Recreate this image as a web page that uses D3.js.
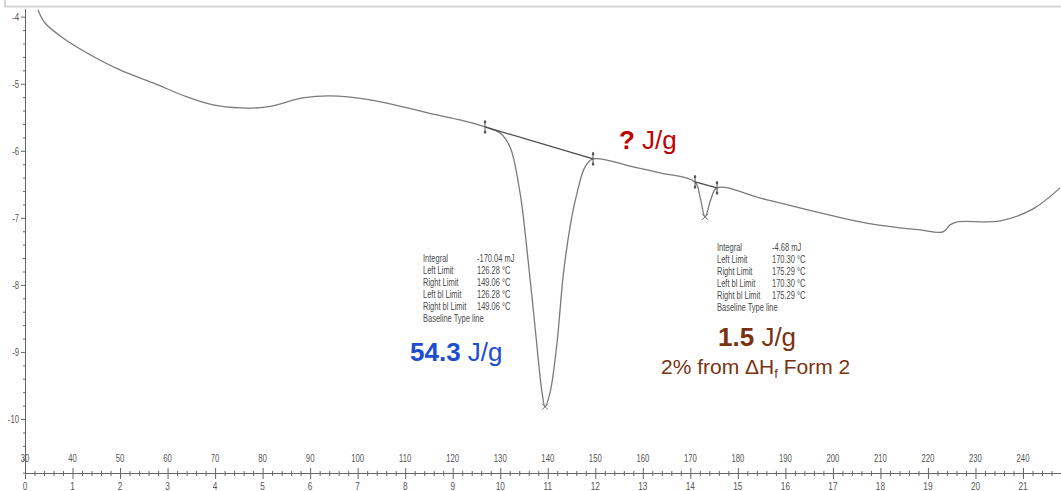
<!DOCTYPE html>
<html><head><meta charset="utf-8">
<script src="https://cdn.jsdelivr.net/npm/d3@7"></script>
<style>html,body{margin:0;padding:0;background:#fff;overflow:hidden}</style>
</head><body><svg id="c" width="1061" height="491"></svg>
<script>
// ---- data ----
const temperature = [32.74,34.21,38.0,43.05,49.99,56.94,64.09,69.56,75.24,80.93,88.5,94.18,102.6,109.55,116.7,121.54,126.8,129.96,132.06,134.17,135.85,137.32,138.8,139.43,140.48,141.95,143.22,144.69,146.16,147.85,149.53,157.95,163.63,170.99,172.05,173.1,174.3,175.62,186.14,205.71,214.13,218.34,223.18,224.65,226.13,235.18,242.12,247.8];
const heatFlow = [-3.90,-4.094,-4.317,-4.541,-4.794,-4.988,-5.197,-5.316,-5.361,-5.346,-5.212,-5.182,-5.241,-5.346,-5.465,-5.54,-5.644,-5.734,-5.942,-6.628,-7.626,-8.625,-9.608,-9.817,-9.608,-8.863,-7.88,-7.134,-6.628,-6.24,-6.121,-6.24,-6.329,-6.464,-6.69,-6.985,-6.73,-6.553,-6.732,-7.06,-7.15,-7.18,-7.21,-7.105,-7.06,-7.045,-6.866,-6.553];
const limitTemps = [126.8,149.53,170.99,175.62];
const limitFlows = [-5.644,-6.121,-6.464,-6.553];
const peakTemps = [139.43,173.1];
const peakFlows = [-9.817,-6.985];
const yTicks = [-4,-5,-6,-7,-8,-9,-10];
const tempLabels = [30,40,50,60,70,80,90,100,110,120,130,140,150,160,170,180,190,200,210,220,230,240];
const timeLabels = [0,1,2,3,4,5,6,7,8,9,10,11,12,13,14,15,16,17,18,19,20,21];
const table1Labels = ["Integral","Left Limit","Right Limit","Left bl Limit","Right bl Limit","Baseline Type line"];
const table1Values = ["-170.04 mJ","126.28 °C","149.06 °C","126.28 °C","149.06 °C",""];
const table2Labels = ["Integral","Left Limit","Right Limit","Left bl Limit","Right bl Limit","Baseline Type line"];
const table2Values = ["-4.68 mJ","170.30 °C","175.29 °C","170.30 °C","175.29 °C",""];

const svg = d3.select("#c");
const FONT = "Liberation Sans, Arial, sans-serif";
const x = d3.scaleLinear().domain([30,240]).range([25,1023]);
const xt = d3.scaleLinear().domain([0,21]).range([25,1023]);
const y = d3.scaleLinear().domain([-4,-10]).range([16.7,419]);
const axisY = 473;
const TICKC = "#555";

// top frame
svg.append("rect").attr("x",5).attr("y",-20).attr("width",1100).attr("height",26.5)
  .attr("fill","none").attr("stroke","#d4d4d4").attr("stroke-width",2);

svg.append("clipPath").attr("id","clip").append("rect").attr("x",25).attr("y",8).attr("width",1040).attr("height",470);

// y axis
svg.append("line").attr("x1",25.5).attr("x2",25.5).attr("y1",9).attr("y2",axisY).attr("stroke","#666");
const yMinor = d3.range(-4,-10.81,-0.2).filter(v=>Math.abs(v-Math.round(v))>0.01);
const gYm = svg.append("g").attr("transform","translate(26,0)")
  .call(d3.axisLeft(y).tickValues(yMinor).tickSize(3).tickFormat(""));
gYm.select(".domain").remove();
gYm.selectAll("line").attr("stroke","#666");
const gY = svg.append("g").attr("transform","translate(26,0)")
  .call(d3.axisLeft(y).tickValues(yTicks).tickSize(5).tickFormat(""));
gY.select(".domain").remove();
gY.selectAll("line").attr("stroke","#666");
yTicks.forEach(v=>{
  svg.append("text").attr("transform",`translate(19,${y(v)+4}) scale(0.7,1)`)
    .attr("text-anchor","end").attr("font-family",FONT).attr("font-size",11).attr("fill",TICKC).text(v);
});

// x axes
svg.append("line").attr("x1",25).attr("x2",1061).attr("y1",axisY+0.5).attr("y2",axisY+0.5).attr("stroke","#666");
const xMinor = d3.range(30,250,2).filter(v=>v%10!==0);
const gXm = svg.append("g").attr("transform",`translate(0,${axisY-2})`)
  .call(d3.axisBottom(x).tickValues(xMinor).tickSize(5).tickFormat(""));
gXm.select(".domain").remove(); gXm.selectAll("line").attr("stroke","#666");
const gX = svg.append("g").attr("transform",`translate(0,${axisY-5})`)
  .call(d3.axisBottom(x).tickValues(d3.range(30,250,10)).tickSize(11).tickFormat(""));
gX.select(".domain").remove(); gX.selectAll("line").attr("stroke","#666");
tempLabels.forEach(v=>{
  svg.append("text").attr("transform",`translate(${x(v)},462) scale(0.7,1)`)
    .attr("text-anchor","middle").attr("font-family",FONT).attr("font-size",11).attr("fill",TICKC).text(v);
});
timeLabels.forEach(v=>{
  svg.append("text").attr("transform",`translate(${xt(v)},490) scale(0.75,1)`)
    .attr("text-anchor","middle").attr("font-family",FONT).attr("font-size",11).attr("fill",TICKC).text(v);
});

// curve
const pts = temperature.map((t,i)=>[t,heatFlow[i]]);
const line = d3.line().x(d=>x(d[0])).y(d=>y(d[1])).curve(d3.curveCatmullRom.alpha(0.5));
svg.append("path").attr("d",line(pts)).attr("clip-path","url(#clip)")
  .attr("fill","none").attr("stroke","#7a7a7a").attr("stroke-width",1.3);

// baselines
[[0,1],[2,3]].forEach(([a,b])=>{
  svg.append("line").attr("x1",x(limitTemps[a])).attr("y1",y(limitFlows[a]))
    .attr("x2",x(limitTemps[b])).attr("y2",y(limitFlows[b]))
    .attr("stroke","#4a4a4a").attr("stroke-width",1.2);
});
// limit markers
limitTemps.forEach((t,i)=>{
  const cx=x(t), cy=y(limitFlows[i]);
  svg.append("line").attr("x1",cx).attr("x2",cx).attr("y1",cy-7).attr("y2",cy+7).attr("stroke","#555").attr("stroke-width",1);
  [-5,5].forEach(o=>svg.append("circle").attr("cx",cx).attr("cy",cy+o).attr("r",1.3).attr("fill","#555"));
});
// peak crosses
peakTemps.forEach((t,i)=>{
  const cx=x(t), cy=y(peakFlows[i]);
  svg.append("path").attr("d",`M${cx-3},${cy-3}L${cx+3},${cy+3}M${cx-3},${cy+3}L${cx+3},${cy-3}`)
    .attr("stroke","#777").attr("stroke-width",1);
});

// tables
function table(lx, vx, y0, labels, values){
  labels.forEach((l,i)=>{
    svg.append("text").attr("transform",`translate(${lx},${y0+i*12}) scale(0.75,1)`)
      .attr("font-family",FONT).attr("font-size",10).attr("fill","#4a4a4a").text(l);
    if(values[i]) svg.append("text").attr("transform",`translate(${vx},${y0+i*12}) scale(0.75,1)`)
      .attr("font-family",FONT).attr("font-size",10).attr("fill","#4a4a4a").text(values[i]);
  });
}
table(423,477,262,table1Labels,table1Values);
table(717,772,251,table2Labels,table2Values);

// big annotations
function big(xp, yp, boldPart, rest, color, size){
  const t = svg.append("text").attr("x",xp).attr("y",yp).attr("font-family",FONT)
    .attr("font-size",size).attr("fill",color);
  t.append("tspan").attr("font-weight","bold").text(boldPart);
  t.append("tspan").text(rest);
}
big(410,361,"54.3"," J/g","#1d4ed1",26);
big(619,149,"?"," J/g","#c00000",26);
big(718,346,"1.5"," J/g","#7a3312",26);
const t2 = svg.append("text").attr("x",661).attr("y",374).attr("font-family",FONT).attr("font-size",21).attr("fill","#7a3312");
t2.append("tspan").text("2% from ΔH");
t2.append("tspan").attr("font-size",13).attr("dy",4).text("f");
t2.append("tspan").attr("dy",-4).text(" Form 2");
</script></body></html>
